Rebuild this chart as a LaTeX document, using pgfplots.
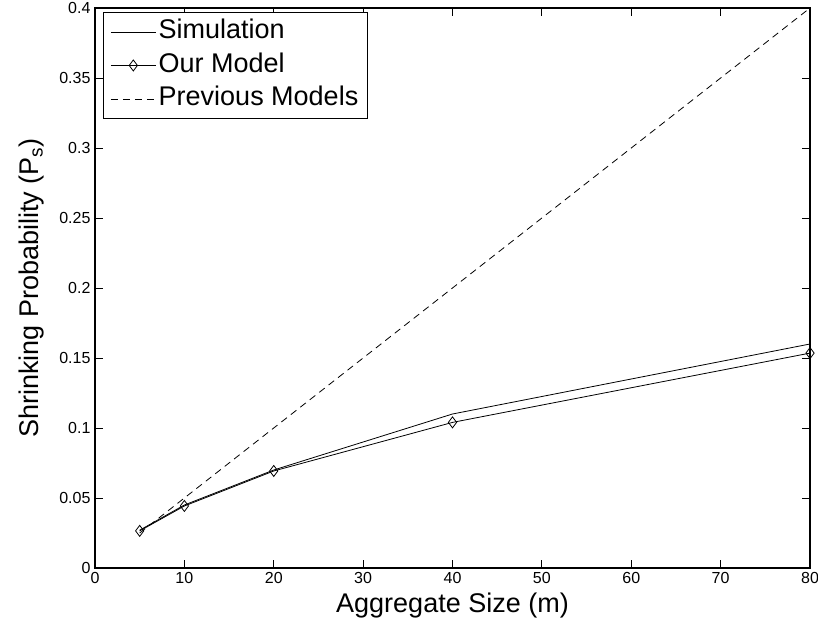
\documentclass[border=0pt]{standalone}
\usepackage{pgfplots}
\pgfplotsset{compat=1.18}
\usepackage{fontspec}
\setmainfont{Liberation Sans}

\begin{document}
\begin{tikzpicture}
\begin{axis}[
  scale only axis,
  width=715pt, height=560pt,
  xmin=0, xmax=80, ymin=0, ymax=0.4,
  xtick={0,10,...,80},
  ytick={0,0.05,...,0.4},
  tick align=inside,
  tick pos=both,
  major tick length=8pt,
  axis line style={line width=1.1pt},
  every tick/.style={line width=0.9pt, black},
  /pgf/number format/assume math mode=true,
  /pgf/number format/fixed,
  /pgf/number format/precision=2,
  ticklabel style={font=\fontsize{16}{18}\selectfont},
  xticklabel style={yshift=-1pt},
  yticklabel style={xshift=-1pt},
  label style={font=\fontsize{27}{31}\selectfont},
  xlabel={Aggregate Size (m)},
  ylabel={Shrinking Probability (P\textsubscript{s})},
  xlabel style={yshift=-2pt},
  ylabel style={yshift=8pt},
  legend style={at={(0.011,0.993)}, anchor=north west,
    font=\fontsize{27}{31}\selectfont, draw=black, line width=1.1pt,
    inner xsep=7pt, inner ysep=4pt, row sep=2.5pt,
    nodes={inner sep=2.5pt, text height=20pt, text depth=6pt}},
  legend cell align=left,
  legend image code/.code={%
    \draw[#1, mark repeat=2, mark phase=2] plot coordinates {(0pt,0pt) (22.5pt,0pt) (45pt,0pt)};},
  clip=false,
]
% simulated shrinking probability
\addplot[black, line width=0.8pt] coordinates {
  (5,0.027) (10,0.045) (20,0.070) (40,0.110) (80,0.160)
};
\addlegendentry{Simulation}
% analytical model
\addplot[black, line width=0.8pt, mark=diamond, mark size=5.5pt,
  mark options={solid, fill=white, line width=0.8pt}] coordinates {
  (5,0.0265) (10,0.0443) (20,0.0693) (40,0.104) (80,0.1535)
};
\addlegendentry{Our Model}
% earlier linear approximation
\addplot[black, line width=0.8pt, dash pattern=on 7pt off 5pt] coordinates {
  (5,0.025) (10,0.05) (20,0.1) (40,0.2) (80,0.4)
};
\addlegendentry{Previous Models}
\coordinate (ll) at (rel axis cs:0,0);
\coordinate (ur) at (rel axis cs:1,1);
\end{axis}
\pgfresetboundingbox
\path (ll) ++(-95pt,-62pt) coordinate (bl);
\path (ur) ++(8pt,8pt) coordinate (tr);
\path[use as bounding box] (bl) rectangle (tr);
\end{tikzpicture}
\end{document}
